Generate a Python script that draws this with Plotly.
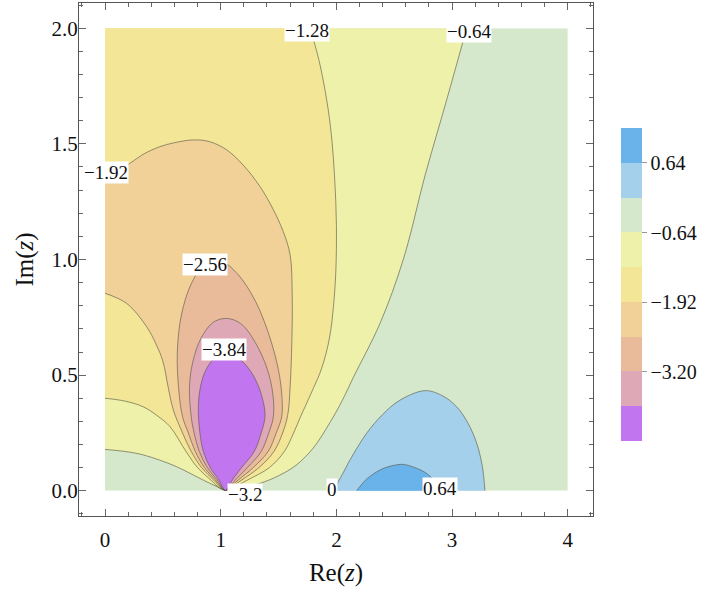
import plotly.graph_objects as go

# Region of the complex plane that is shaded
RE_RANGE = [0.0, 4.0]
IM_RANGE = [0.0, 2.0]
# Frame limits (padded around the shaded region)
RE_FRAME = [-0.225, 4.218]
IM_FRAME = [-0.109, 2.109]

# Contour levels and the fill colour of each band, lowest band first
LEVELS = [-3.84, -3.20, -2.56, -1.92, -1.28, -0.64, 0.0, 0.64]
BAND_COLORS = ["#C175EE", "#DFA8B6", "#EABB9B", "#F1D197", "#F3E697",
               "#EEF1AA", "#D5E8CB", "#A4D0EB", "#6AB2EA"]
BAR_TICKS = [0.64, -0.64, -1.92, -3.20]
BAR_TEXT = ["0.64", "\u22120.64", "\u22121.92", "\u22123.20"]

# Traced level curves, points given as (Re z, Im z)
POLE = (1.04, 0.0)
M064_LEFT = [(0.0, 0.179), (0.2, 0.168), (0.331, 0.155), (0.47, 0.133), (0.619, 0.104),
             (0.85, 0.046), (1.0, 0.01), POLE]
M064_RIGHT = [POLE, (1.1, 0.006), (1.22, 0.017), (1.34, 0.032), (1.5, 0.065), (1.65, 0.11),
              (1.80, 0.185), (1.95, 0.30), (2.05, 0.39), (2.146, 0.49), (2.377, 0.724),
              (2.578, 1.0), (2.77, 1.37), (2.953, 1.69), (3.126, 2.0)]
M128_LEFT = [(0.0, 0.40), (0.17, 0.388), (0.331, 0.363), (0.45, 0.325), (0.562, 0.277),
             (0.70, 0.17), (0.80, 0.10), (0.915, 0.046), (0.99, 0.012), POLE]
M128_RIGHT = [POLE, (1.1, 0.012), (1.23, 0.046), (1.42, 0.10), (1.55, 0.17), (1.63, 0.25),
              (1.69, 0.32), (1.78, 0.42), (1.873, 0.53), (1.94, 0.66), (1.975, 0.80),
              (1.995, 0.95), (2.0, 1.15), (1.985, 1.35), (1.955, 1.546), (1.916, 1.69),
              (1.85, 1.86), (1.772, 2.0)]
M192_LEFT = [(0.0, 0.854), (0.187, 0.81), (0.36, 0.709), (0.44, 0.635), (0.50, 0.56),
             (0.545, 0.45), (0.59, 0.35), (0.67, 0.25), (0.745, 0.17), (0.835, 0.10),
             (0.94, 0.046), (1.0, 0.014), POLE]
M192_ARC = [POLE, (1.08, 0.014), (1.18, 0.046), (1.33, 0.10), (1.46, 0.17), (1.535, 0.25),
            (1.58, 0.33), (1.60, 0.45), (1.615, 0.65), (1.618, 0.85), (1.60, 1.02),
            (1.541, 1.12), (1.45, 1.22), (1.34, 1.315), (1.2, 1.405), (1.052, 1.474),
            (0.9, 1.51), (0.763, 1.517), (0.6, 1.505), (0.475, 1.488), (0.33, 1.455),
            (0.216, 1.416), (0.1, 1.38), (0.0, 1.345)]
M256_LOOP = [POLE, (1.01, 0.012), (0.955, 0.046), (0.86, 0.10), (0.78, 0.17), (0.72, 0.25),
             (0.67, 0.32), (0.635, 0.45), (0.625, 0.6), (0.66, 0.76), (0.75, 0.9),
             (0.88, 0.99), (1.0, 0.995), (1.15, 0.935), (1.30, 0.82), (1.42, 0.67),
             (1.50, 0.52), (1.53, 0.40), (1.527, 0.32), (1.48, 0.25), (1.41, 0.17),
             (1.28, 0.10), (1.15, 0.046), (1.07, 0.012), POLE]
M320_LOOP = [POLE, (1.015, 0.012), (0.97, 0.046), (0.885, 0.10), (0.815, 0.17), (0.77, 0.25),
             (0.745, 0.32), (0.73, 0.45), (0.76, 0.56), (0.83, 0.66), (0.94, 0.73),
             (1.06, 0.745), (1.18, 0.72), (1.30, 0.64), (1.40, 0.53), (1.45, 0.42),
             (1.455, 0.32), (1.415, 0.25), (1.35, 0.17), (1.23, 0.10), (1.125, 0.046),
             (1.065, 0.012), POLE]
M384_LOOP = [POLE, (1.02, 0.012), (0.985, 0.046), (0.91, 0.10), (0.85, 0.17), (0.82, 0.25),
             (0.807, 0.33), (0.815, 0.42), (0.86, 0.51), (0.94, 0.57), (1.04, 0.59),
             (1.14, 0.577), (1.24, 0.53), (1.32, 0.46), (1.37, 0.38), (1.383, 0.32),
             (1.35, 0.25), (1.29, 0.17), (1.18, 0.10), (1.10, 0.046), (1.06, 0.012), POLE]
ZERO_ARC = [(1.97, 0.0), (2.05, 0.07), (2.117, 0.133), (2.26, 0.248), (2.40, 0.33),
            (2.55, 0.392), (2.766, 0.433), (2.92, 0.41), (3.04, 0.363), (3.14, 0.29),
            (3.213, 0.205), (3.26, 0.11), (3.284, 0.0)]
P064_ARC = [(2.175, 0.0), (2.26, 0.05), (2.377, 0.09), (2.478, 0.108), (2.578, 0.114),
            (2.68, 0.10), (2.78, 0.075), (2.838, 0.046), (2.86, 0.0)]

# Contour labels: text and anchor on its curve
LABELS = [("\u22121.28", 1.743, 1.99), ("\u22120.64", 3.146, 1.985), ("\u22121.92", 0.009, 1.376),
          ("\u22122.56", 0.864, 0.98), ("\u22123.84", 1.026, 0.613), ("\u22123.2", 1.207, -0.014),
          ("0", 1.966, 0.007), ("0.64", 2.895, 0.01)]

SERIF = "Liberation Serif, Times New Roman, serif"
LINE_COLOR = "rgba(90,90,70,0.7)"
PAD = 0.4


def extend(p_prev, p_last, dist=PAD):
    """Continue a curve past the edge of the shaded region along its last direction."""
    dx, dy = p_last[0] - p_prev[0], p_last[1] - p_prev[1]
    n = (dx * dx + dy * dy) ** 0.5
    return (p_last[0] + dx / n * dist, p_last[1] + dy / n * dist)


def xy(points):
    return [p[0] for p in points], [p[1] for p in points]


fig = go.Figure()


def add_fill(points, color, shape="spline"):
    x, y = xy(points)
    fig.add_trace(go.Scatter(x=x, y=y, mode="lines", fill="toself", fillcolor=color,
                             line=dict(width=0, shape=shape, smoothing=1),
                             hoverinfo="skip", xaxis="x2", yaxis="y2"))


def add_line(points):
    x, y = xy(points)
    fig.add_trace(go.Scatter(x=x, y=y, mode="lines",
                             line=dict(color=LINE_COLOR, width=0.9, shape="spline", smoothing=1),
                             hoverinfo="skip", xaxis="x2", yaxis="y2"))


x0, x1 = RE_RANGE
y0, y1 = IM_RANGE
top_left = (x0 - PAD, y1 + PAD)

# band between -0.64 and 0 covers the whole region
add_fill([(x0, y0), (x1, y0), (x1, y1), (x0, y1)], BAND_COLORS[6], shape="linear")
# f < -0.64
add_fill([extend(M064_LEFT[1], M064_LEFT[0])] + M064_LEFT + M064_RIGHT[1:]
         + [extend(M064_RIGHT[-2], M064_RIGHT[-1]), top_left], BAND_COLORS[5])
# f < -1.28
add_fill([extend(M128_LEFT[1], M128_LEFT[0])] + M128_LEFT + M128_RIGHT[1:]
         + [extend(M128_RIGHT[-2], M128_RIGHT[-1]), top_left], BAND_COLORS[4])
# f < -1.92
add_fill([extend(M192_LEFT[1], M192_LEFT[0])] + M192_LEFT + M192_ARC[1:]
         + [extend(M192_ARC[-2], M192_ARC[-1])], BAND_COLORS[3])
# closed loops around the singular point
add_fill(M256_LOOP, BAND_COLORS[2])
add_fill(M320_LOOP, BAND_COLORS[1])
add_fill(M384_LOOP, BAND_COLORS[0])
# f > 0 and f > 0.64
add_fill([extend(ZERO_ARC[1], ZERO_ARC[0])] + ZERO_ARC + [extend(ZERO_ARC[-2], ZERO_ARC[-1])],
         BAND_COLORS[7])
add_fill([extend(P064_ARC[1], P064_ARC[0])] + P064_ARC + [extend(P064_ARC[-2], P064_ARC[-1])],
         BAND_COLORS[8])

for curve in [M064_LEFT, M064_RIGHT, M128_LEFT, M128_RIGHT, M192_LEFT, M192_ARC,
              M256_LOOP, M320_LOOP, M384_LOOP, ZERO_ARC, P064_ARC]:
    add_line(curve)

# discrete colour bar spanning one band below and above the levels
step = LEVELS[1] - LEVELS[0]
cmin, cmax = LEVELS[0] - step, LEVELS[-1] + step
nb = len(BAND_COLORS)
scale = []
for i, col in enumerate(BAND_COLORS):
    scale += [[i / nb, col], [(i + 1) / nb, col]]
fig.add_trace(go.Scatter(
    x=[None], y=[None], mode="markers", hoverinfo="skip",
    marker=dict(color=[LEVELS[0]], colorscale=scale, cmin=cmin, cmax=cmax, showscale=True,
                colorbar=dict(x=(621 - 79) / 514, xanchor="left", xpad=0, ypad=0,
                              y=(516 - 284.7) / 513, yanchor="middle", len=313, lenmode="pixels",
                              thickness=21, outlinewidth=0, ticks="outside", ticklen=5,
                              tickcolor="#999", tickvals=BAR_TICKS, ticktext=BAR_TEXT,
                              tickfont=dict(family=SERIF, size=20, color="#111")))))

for text, lx, ly in LABELS:
    fig.add_annotation(x=lx, y=ly, xref="x", yref="y", text=text, showarrow=False,
                       bgcolor="white", borderpad=0, font=dict(family=SERIF, size=19, color="#111"))

frame = dict(showline=True, mirror="allticks", linecolor="#555", linewidth=1, ticks="inside",
             ticklen=7, tickcolor="#666", showgrid=False, zeroline=False,
             tickfont=dict(family=SERIF, size=21, color="#111"))
fig.update_layout(
    width=702, height=594, margin=dict(l=79, r=109, t=3, b=78, autoexpand=False),
    showlegend=False, plot_bgcolor="white", paper_bgcolor="white",
    xaxis=dict(range=RE_FRAME, tickvals=[0, 1, 2, 3, 4], ticklabelstandoff=5,
               minor=dict(ticks="inside", ticklen=4, dtick=0.2, tickcolor="#666"),
               title=dict(text="Re(<i>z</i>)", font=dict(family=SERIF, size=25, color="#111"),
                          standoff=12), **frame),
    yaxis=dict(range=IM_FRAME, tickvals=[0, 0.5, 1, 1.5, 2], tickformat=".1f",
               ticklabelstandoff=-4,
               minor=dict(ticks="inside", ticklen=4, dtick=0.1, tickcolor="#666"),
               title=dict(text="Im(<i>z</i>)", font=dict(family=SERIF, size=25, color="#111"),
                          standoff=10), **frame),
    xaxis2=dict(range=RE_RANGE, anchor="y2", visible=False, fixedrange=True,
                domain=[(RE_RANGE[0] - RE_FRAME[0]) / (RE_FRAME[1] - RE_FRAME[0]),
                        (RE_RANGE[1] - RE_FRAME[0]) / (RE_FRAME[1] - RE_FRAME[0])]),
    yaxis2=dict(range=IM_RANGE, anchor="x2", visible=False, fixedrange=True,
                domain=[(IM_RANGE[0] - IM_FRAME[0]) / (IM_FRAME[1] - IM_FRAME[0]),
                        (IM_RANGE[1] - IM_FRAME[0]) / (IM_FRAME[1] - IM_FRAME[0])]),
)
fig.write_html("out.html")
